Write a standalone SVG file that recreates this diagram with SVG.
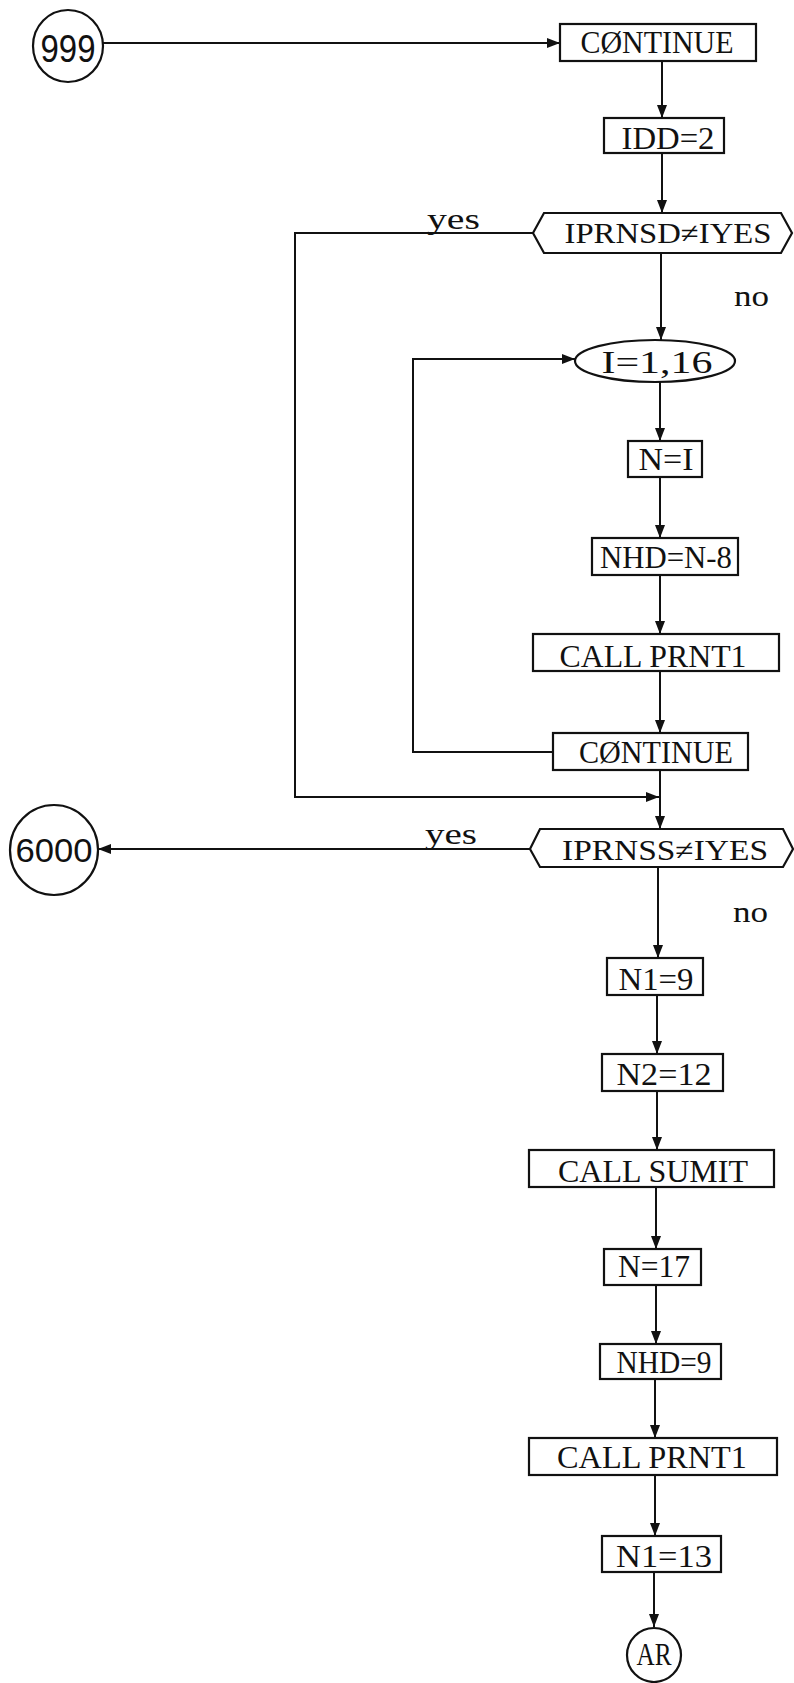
<svg xmlns="http://www.w3.org/2000/svg" width="794" height="1683" viewBox="0 0 794 1683">
<style>
.box{fill:#fff;stroke:#111;stroke-width:2.2}
.ln{fill:none;stroke:#111;stroke-width:2}
.t{font-family:"Liberation Serif","DejaVu Serif",serif;font-size:31px;fill:#111;text-anchor:middle}
.h{font-size:29px}
.lbl{font-family:"Liberation Serif","DejaVu Serif",serif;font-size:29px;fill:#111}
.c{font-family:"Liberation Sans","DejaVu Sans",sans-serif;fill:#111;text-anchor:middle}
</style>
<defs>
<marker id="ah" markerUnits="userSpaceOnUse" markerWidth="14" markerHeight="10" refX="13" refY="5" orient="auto">
<path d="M0,0 L13,5 L0,10 Z" fill="#111"/>
</marker>
</defs>
<rect width="794" height="1683" fill="#fff"/>
<g id="connectors">
<path class="ln" d="M103,43 H560" marker-end="url(#ah)"/>
<path class="ln" d="M662,61 V118" marker-end="url(#ah)"/>
<path class="ln" d="M662,153 V213" marker-end="url(#ah)"/>
<path class="ln" d="M661,253 V340" marker-end="url(#ah)"/>
<path class="ln" d="M533,233 H295 V797 H659" marker-end="url(#ah)"/>
<path class="ln" d="M660,382 V441" marker-end="url(#ah)"/>
<path class="ln" d="M660,477 V538" marker-end="url(#ah)"/>
<path class="ln" d="M660,575 V634" marker-end="url(#ah)"/>
<path class="ln" d="M660,671 V733" marker-end="url(#ah)"/>
<path class="ln" d="M553,752 H413 V359 H575" marker-end="url(#ah)"/>
<path class="ln" d="M660,770 V829" marker-end="url(#ah)"/>
<path class="ln" d="M530,849 H98" marker-end="url(#ah)"/>
<path class="ln" d="M658,867 V958" marker-end="url(#ah)"/>
<path class="ln" d="M657,995 V1054" marker-end="url(#ah)"/>
<path class="ln" d="M657,1091 V1150" marker-end="url(#ah)"/>
<path class="ln" d="M656,1187 V1249" marker-end="url(#ah)"/>
<path class="ln" d="M656,1285 V1344" marker-end="url(#ah)"/>
<path class="ln" d="M655,1379 V1438" marker-end="url(#ah)"/>
<path class="ln" d="M655,1475 V1536" marker-end="url(#ah)"/>
<path class="ln" d="M654,1572 V1627" marker-end="url(#ah)"/>
<text class="lbl" x="427" y="229" textLength="53" lengthAdjust="spacingAndGlyphs">yes</text>
<text class="lbl" x="734" y="306" textLength="35" lengthAdjust="spacingAndGlyphs">no</text>
<text class="lbl" x="425" y="844" textLength="52" lengthAdjust="spacingAndGlyphs">yes</text>
<text class="lbl" x="733" y="922" textLength="35" lengthAdjust="spacingAndGlyphs">no</text>
</g>
<g id="n999">
<ellipse class="box" cx="68" cy="46" rx="35" ry="36"/>
<text class="c" x="68" y="62" font-size="38" textLength="55" lengthAdjust="spacingAndGlyphs">999</text>
</g>
<g id="continue1">
<rect class="box" x="560" y="24" width="196" height="37"/>
<text class="t" x="657" y="53" textLength="153" lengthAdjust="spacingAndGlyphs">CØNTINUE</text>
</g>
<g id="idd2">
<rect class="box" x="604" y="118" width="120" height="35"/>
<text class="t" x="668" y="149" textLength="93" lengthAdjust="spacingAndGlyphs">IDD=2</text>
</g>
<g id="iprnsd">
<polygon class="box" points="533,233 544,213 781,213 792,233 781,253 544,253"/>
<text class="t h" x="668" y="243" textLength="207" lengthAdjust="spacingAndGlyphs">IPRNSD≠IYES</text>
</g>
<g id="doloop">
<ellipse class="box" cx="655" cy="361" rx="80" ry="21"/>
<text class="t" x="657" y="373" textLength="111" lengthAdjust="spacingAndGlyphs">I=1,16</text>
</g>
<g id="nI">
<rect class="box" x="628" y="441" width="74" height="36"/>
<text class="t" x="666" y="470" textLength="55" lengthAdjust="spacingAndGlyphs">N=I</text>
</g>
<g id="nhdn8">
<rect class="box" x="592" y="538" width="146" height="37"/>
<text class="t" x="666" y="568" textLength="132" lengthAdjust="spacingAndGlyphs">NHD=N-8</text>
</g>
<g id="callprnt1a">
<rect class="box" x="533" y="634" width="246" height="37"/>
<text class="t" x="653" y="667" textLength="187" lengthAdjust="spacingAndGlyphs">CALL PRNT1</text>
</g>
<g id="continue2">
<rect class="box" x="553" y="733" width="195" height="37"/>
<text class="t" x="656" y="763" textLength="154" lengthAdjust="spacingAndGlyphs">CØNTINUE</text>
</g>
<g id="iprnss">
<polygon class="box" points="530,849 540,829 783,829 793,849 783,867 540,867"/>
<text class="t h" x="665" y="860" textLength="206" lengthAdjust="spacingAndGlyphs">IPRNSS≠IYES</text>
</g>
<g id="n6000">
<ellipse class="box" cx="54" cy="850" rx="44" ry="45"/>
<text class="c" x="54" y="862" font-size="33" textLength="77" lengthAdjust="spacingAndGlyphs">6000</text>
</g>
<g id="n1eq9">
<rect class="box" x="607" y="958" width="96" height="37"/>
<text class="t" x="656" y="990" textLength="75" lengthAdjust="spacingAndGlyphs">N1=9</text>
</g>
<g id="n2eq12">
<rect class="box" x="602" y="1054" width="121" height="37"/>
<text class="t" x="664" y="1085" textLength="95" lengthAdjust="spacingAndGlyphs">N2=12</text>
</g>
<g id="callsumit">
<rect class="box" x="529" y="1150" width="245" height="37"/>
<text class="t" x="653" y="1182" textLength="190" lengthAdjust="spacingAndGlyphs">CALL SUMIT</text>
</g>
<g id="neq17">
<rect class="box" x="604" y="1249" width="97" height="36"/>
<text class="t" x="654" y="1277" textLength="72" lengthAdjust="spacingAndGlyphs">N=17</text>
</g>
<g id="nhd9">
<rect class="box" x="600" y="1344" width="121" height="35"/>
<text class="t" x="664" y="1373" textLength="95" lengthAdjust="spacingAndGlyphs">NHD=9</text>
</g>
<g id="callprnt1b">
<rect class="box" x="529" y="1438" width="248" height="37"/>
<text class="t" x="652" y="1468" textLength="190" lengthAdjust="spacingAndGlyphs">CALL PRNT1</text>
</g>
<g id="n1eq13">
<rect class="box" x="602" y="1536" width="119" height="36"/>
<text class="t" x="664" y="1567" textLength="96" lengthAdjust="spacingAndGlyphs">N1=13</text>
</g>
<g id="ar">
<circle class="box" cx="654" cy="1655" r="27"/>
<text class="t" x="654" y="1665" font-size="28" textLength="35" lengthAdjust="spacingAndGlyphs">AR</text>
</g>
</svg>
